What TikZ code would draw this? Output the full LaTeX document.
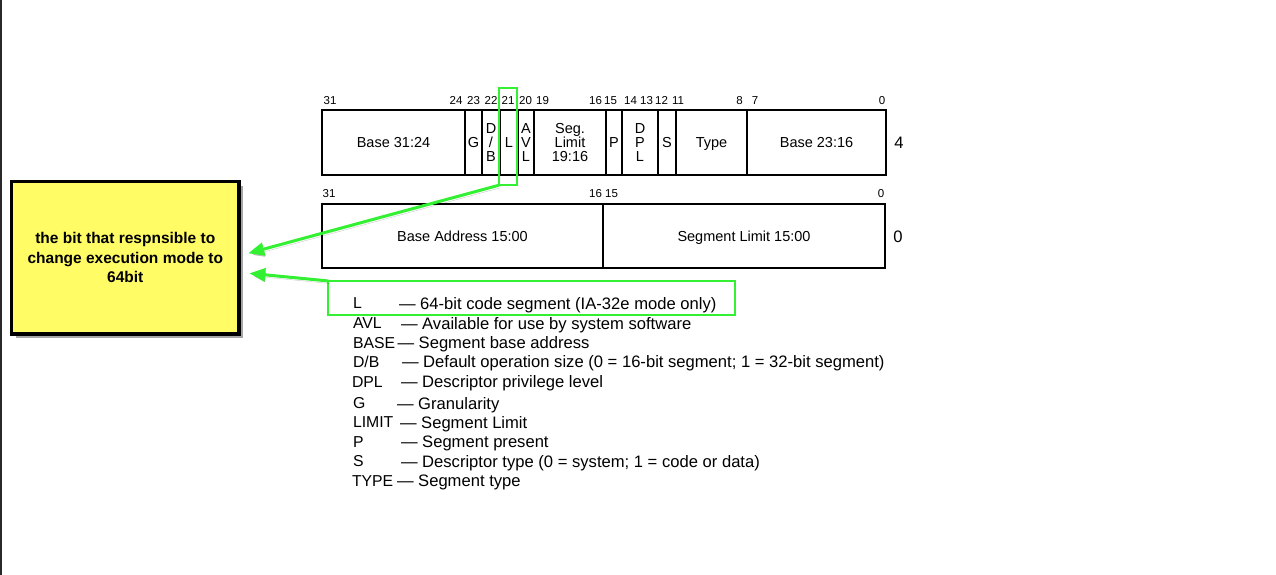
\documentclass[tikz,border=0pt]{standalone}
\usepackage{fontspec}
\setmainfont{Liberation Sans}
\usetikzlibrary{arrows.meta,shadows}
\definecolor{grn}{RGB}{51,240,51}
\definecolor{yel}{RGB}{255,252,102}
\definecolor{edge}{RGB}{40,40,40}
\begin{document}
\begin{tikzpicture}[x=1pt,y=-1pt,
  every node/.style={inner sep=0pt, outer sep=0pt, text depth=0pt},
  cellbox/.style={draw=black, line width=1.2pt, minimum height=65pt, font=\fontsize{14.5}{14}\selectfont, align=center},
  lowbox/.style={draw=black, line width=1.3pt, minimum height=64pt, font=\fontsize{14.5}{14}\selectfont, align=center},
  bitnum/.style={font=\fontsize{11.5}{11}\selectfont},
  rownum/.style={font=\fontsize{16.6}{16}\selectfont},
  lgkey/.style={font=\fontsize{15.8}{16}\selectfont, anchor=west},
  lgtext/.style={font=\fontsize{16.6}{16}\selectfont, anchor=west},
  greenbox/.style={draw=grn, line width=2.3pt},
  notebox/.style={draw=black, line width=3.3pt, fill=yel, align=center,
     font=\fontsize{15.5}{19.5}\selectfont\bfseries,
     drop shadow={shadow xshift=4pt, shadow yshift=-4pt, opacity=.35, fill=black}},
  garrow/.style={draw=grn, line width=3pt, -{Triangle[length=16pt,width=13pt]},
     preaction={draw=black, opacity=.22, transform canvas={shift={(1.5pt,-2.5pt)}}}}
]
\useasboundingbox (0,0) rectangle (1276,575);
\draw[edge, line width=1.5pt] (0.75,0) -- (0.75,575);

% ---- upper descriptor word (4)
\node[cellbox, minimum width=143pt] (base3124) at (393.5,142.5) {Base 31:24};
\node[cellbox, minimum width=17pt]  (g)        at (473.5,142.5) {G};
\node[cellbox, minimum width=18pt]  (db)       at (491,142.5)   {D\\/\\B};
\node[cellbox, minimum width=18pt]  (l)        at (509,142.5)   {L};
\node[cellbox, minimum width=16pt]  (avl)      at (526,142.5)   {A\\V\\L};
\node[cellbox, minimum width=72pt]  (seglim)   at (570,142.5)   {Seg.\\Limit\\19:16};
\node[cellbox, minimum width=16pt]  (p)        at (614,142.5)   {P};
\node[cellbox, minimum width=36pt]  (dpl)      at (640,142.5)   {D\\P\\L};
\node[cellbox, minimum width=18pt]  (s)        at (667,142.5)   {S};
\node[cellbox, minimum width=71pt]  (type)     at (711.5,142.5) {Type};
\node[cellbox, minimum width=139pt] (base2316) at (816.5,142.5) {Base 23:16};
\draw[line width=2pt] (base3124.north west) -- (base2316.north east);
\draw[line width=2pt] (base3124.south west) -- (base2316.south east);
\node[rownum] (row4) at (899,143) {4};

\node[bitnum] (b31) at (330,100.7) {31};
\node[bitnum] (b24) at (456,100.7) {24};
\node[bitnum] (b23) at (473.5,100.7) {23};
\node[bitnum] (b22) at (491,100.7) {22};
\node[bitnum] (b21) at (508,100.7) {21};
\node[bitnum] (b20) at (525.5,100.7) {20};
\node[bitnum] (b19) at (542.5,100.7) {19};
\node[bitnum] (b16) at (595.5,100.7) {16};
\node[bitnum] (b15) at (610.5,100.7) {15};
\node[bitnum] (b14) at (630.5,100.7) {14};
\node[bitnum] (b13) at (646.5,100.7) {13};
\node[bitnum] (b12) at (661.5,100.7) {12};
\node[bitnum] (b11) at (678,100.7) {11};
\node[bitnum] (b8)  at (739.5,100.7) {8};
\node[bitnum] (b7)  at (755,100.7) {7};
\node[bitnum] (b0)  at (882,100.7) {0};

% ---- lower descriptor word (0)
\node[lowbox, minimum width=281pt] (baseaddr) at (462.5,236) {Base Address 15:00};
\node[lowbox, minimum width=282pt] (seglow)   at (744,236)   {Segment Limit 15:00};
\node[rownum] (row0) at (898,237) {0};
\node[bitnum] (c31) at (329,193.3) {31};
\node[bitnum] (c16) at (595.5,193.3) {16};
\node[bitnum] (c15) at (611.5,193.3) {15};
\node[bitnum] (c0)  at (881,193.3) {0};

% ---- legend
\node[lgkey] (kL)    at (353,303.3) {L};
\node[lgtext] (tL)   at (399,303.3) {— 64-bit code segment (IA-32e mode only)};
\node[lgkey] (kAVL)  at (353,323.3) {AVL};
\node[lgtext] (tAVL) at (401,323.3) {— Available for use by system software};
\node[lgkey] (kBASE) at (353,342.7) {BASE};
\node[lgtext] (tBASE) at (397.5,342.7) {— Segment base address};
\node[lgkey] (kDB)   at (353,361.7) {D/B};
\node[lgtext] (tDB)  at (402,361.7) {— Default operation size (0 = 16-bit segment; 1 = 32-bit segment)};
\node[lgkey] (kDPL)  at (352,381.7) {DPL};
\node[lgtext] (tDPL) at (401,381.7) {— Descriptor privilege level};
\node[lgkey] (kG)    at (353,403.3) {G};
\node[lgtext] (tG)   at (397,403.3) {— Granularity};
\node[lgkey] (kLIM)  at (353,422.3) {LIMIT};
\node[lgtext] (tLIM) at (400,422.3) {— Segment Limit};
\node[lgkey] (kP)    at (353,441.7) {P};
\node[lgtext] (tP)   at (401,441.7) {— Segment present};
\node[lgkey] (kS)    at (353,461) {S};
\node[lgtext] (tS)   at (401,461) {— Descriptor type (0 = system; 1 = code or data)};
\node[lgkey] (kTYPE) at (352,480.7) {TYPE};
\node[lgtext] (tTYPE) at (397,480.7) {— Segment type};

% ---- highlights and note
\node[greenbox, minimum width=18.4pt, minimum height=97.5pt] (lhl) at (508,136.5) {};
\node[greenbox, minimum width=406.7pt, minimum height=33.7pt] (leghl) at (531.6,297.8) {};
\node[notebox, minimum width=227.3pt, minimum height=152.3pt] (note) at (125.3,257.8)
  {the bit that respnsible to\\change execution mode to\\64bit};

\coordinate (tip1) at (248.3,253.3);
\coordinate (tip2) at (249.3,273.3);
\draw[garrow] (lhl.south west) -- (tip1);
\draw[garrow] (leghl.north west) -- (tip2);
\end{tikzpicture}
\end{document}
